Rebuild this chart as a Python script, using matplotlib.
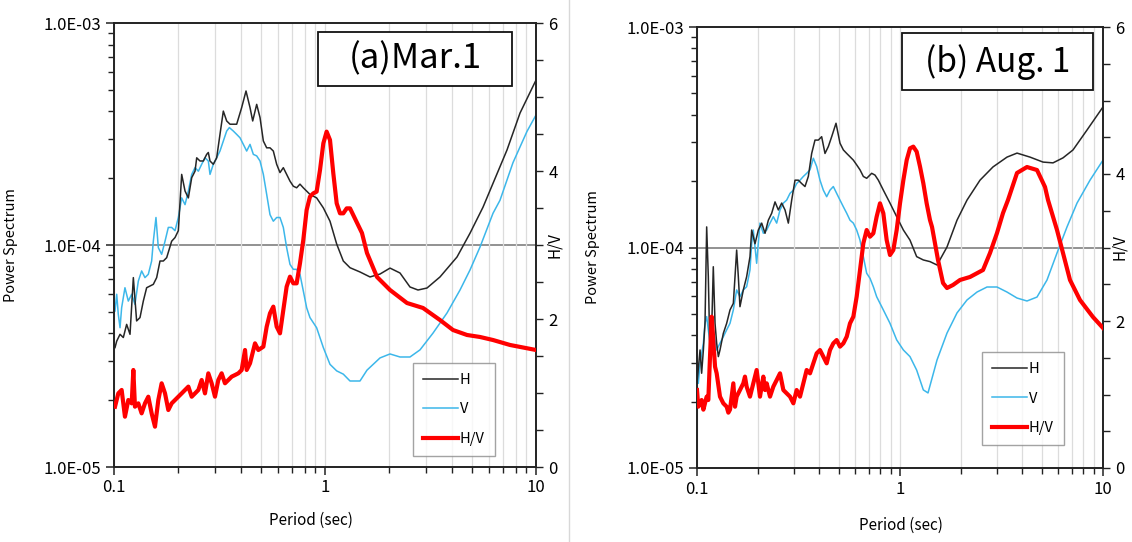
import numpy as np
import matplotlib
matplotlib.use("Agg")
import matplotlib.pyplot as plt
from matplotlib.patches import Rectangle
from matplotlib.ticker import FixedLocator, MultipleLocator, NullFormatter, LogLocator

plt.rcParams['font.family'] = ['Noto Sans CJK JP', 'DejaVu Sans']

# power spectra are stored in units of 1e-5
PS_UNIT = 1e-5

# ---- (a) Mar. 1 ----
mar_h_period = [0.1011, 0.1030, 0.1068, 0.1107, 0.1148, 0.1191, 0.1235, 0.1280, 0.1328, 0.1377,
                0.1428, 0.1536, 0.1593, 0.1652, 0.1713, 0.1777, 0.1876, 0.1946, 0.2018, 0.2093,
                0.2171, 0.2251, 0.2335, 0.2421, 0.2466, 0.2556, 0.2651, 0.2749, 0.2799, 0.2851,
                0.2956, 0.3066, 0.3179, 0.3297, 0.3420, 0.3547, 0.3814, 0.4028, 0.4223, 0.4412,
                0.4543, 0.4745, 0.4921, 0.5103, 0.5292, 0.5487, 0.5690, 0.5901, 0.6119, 0.6346,
                0.6580, 0.6824, 0.7077, 0.7338, 0.7610, 0.7892, 0.8487, 0.9127, 0.9820, 1.056,
                1.136, 1.221, 1.314, 1.465, 1.634, 1.823, 2.033, 2.267, 2.528, 2.759,
                3.043, 3.508, 4.223, 4.867, 5.608, 7.288, 8.400, 10.0]
mar_h = [3.45, 3.69, 3.96, 3.83, 4.39, 3.96, 7.13, 4.55, 4.71, 5.59,
         6.42, 6.65, 7.13, 8.47, 8.47, 8.77, 10.4, 10.8, 11.6, 20.8,
         17.5, 16.3, 20.1, 21.5, 24.7, 23.9, 23.9, 25.6, 26.1, 23.9,
         23.1, 24.7, 31.5, 40.1, 36.2, 35.0, 35.0, 41.6, 49.4, 41.6,
         36.2, 43.0, 37.5, 29.4, 27.4, 27.4, 26.5, 23.1, 21.2, 22.3,
         20.8, 19.4, 18.4, 18.1, 18.8, 18.1, 16.9, 16.3, 14.7, 12.8,
         10.1, 8.47, 7.90, 7.56, 7.18, 7.40, 7.87, 7.48, 6.47, 6.27,
         6.40, 7.18, 8.83, 11.3, 14.8, 26.8, 39.3, 55.3]

mar_v_period = [0.1011, 0.1030, 0.1048, 0.1068, 0.1087, 0.1127, 0.1169, 0.1213, 0.1257, 0.1304,
                0.1352, 0.1402, 0.1454, 0.1508, 0.1536, 0.1581, 0.1622, 0.1682, 0.1745, 0.1809,
                0.1876, 0.1946, 0.2018, 0.2093, 0.2171, 0.2251, 0.2335, 0.2421, 0.2511, 0.2603,
                0.2699, 0.2799, 0.2851, 0.2956, 0.3066, 0.3179, 0.3297, 0.3420, 0.3521, 0.3678,
                0.3814, 0.3956, 0.4102, 0.4254, 0.4412, 0.4575, 0.4745, 0.4921, 0.5103, 0.5292,
                0.5487, 0.5690, 0.5901, 0.6119, 0.6346, 0.6580, 0.6824, 0.7077, 0.7338, 0.7610,
                0.7892, 0.8184, 0.8487, 0.9127, 0.9820, 1.056, 1.136, 1.221, 1.314, 1.465,
                1.581, 1.823, 2.033, 2.267, 2.528, 2.820, 3.250, 3.786, 4.364, 4.867,
                5.428, 6.256, 6.750, 7.780, 9.065, 10.0]
mar_v = [5.04, 6.00, 4.87, 4.24, 5.22, 6.42, 5.59, 6.00, 5.40, 6.88,
         7.64, 7.13, 7.38, 8.47, 10.4, 13.3, 9.73, 9.08, 10.4, 12.0,
         12.0, 11.6, 13.3, 16.3, 15.2, 17.5, 20.8, 22.3, 21.5, 23.1,
         24.7, 23.9, 20.8, 23.1, 24.7, 26.5, 29.4, 32.6, 33.8, 32.6,
         31.5, 30.4, 28.4, 26.5, 28.4, 25.6, 25.2, 23.9, 20.8, 16.9,
         13.7, 12.8, 13.3, 13.3, 12.0, 9.73, 8.18, 7.77, 7.77, 7.38,
         6.21, 5.22, 4.71, 4.24, 3.45, 2.90, 2.71, 2.62, 2.44, 2.44,
         2.73, 3.10, 3.23, 3.13, 3.13, 3.37, 4.01, 4.94, 6.27, 7.72,
         9.79, 13.9, 15.9, 23.5, 32.5, 38.5]

mar_hv_period = [0.1011, 0.1048, 0.1087, 0.1127, 0.1169, 0.1213, 0.1235, 0.1257, 0.1304, 0.1352,
                 0.1402, 0.1454, 0.1508, 0.1564, 0.1622, 0.1682, 0.1745, 0.1809, 0.1876, 0.1946,
                 0.2018, 0.2093, 0.2171, 0.2251, 0.2335, 0.2421, 0.2511, 0.2603, 0.2699, 0.2799,
                 0.2903, 0.3010, 0.3122, 0.3237, 0.3357, 0.3483, 0.3612, 0.3746, 0.3884, 0.4028,
                 0.4178, 0.4254, 0.4412, 0.4659, 0.4831, 0.5103, 0.5292, 0.5487, 0.5690, 0.5901,
                 0.6119, 0.6346, 0.6580, 0.6824, 0.7077, 0.7338, 0.7610, 0.7892, 0.8184, 0.8487,
                 0.8801, 0.9127, 0.9470, 0.9820, 1.018, 1.056, 1.095, 1.136, 1.178, 1.221,
                 1.267, 1.314, 1.497, 1.581, 1.764, 2.033, 2.447, 2.914, 3.508, 4.043,
                 4.710, 5.428, 6.256, 7.530, 10.0]
mar_hv = [0.815, 0.995, 1.041, 0.680, 0.905, 0.860, 1.311, 0.815, 0.860, 0.725,
          0.860, 0.950, 0.725, 0.545, 0.905, 1.131, 0.995, 0.770, 0.860, 0.905,
          0.950, 0.995, 1.041, 1.086, 0.950, 0.995, 1.041, 1.176, 0.995, 1.266,
          1.131, 0.950, 1.176, 1.266, 1.131, 1.176, 1.221, 1.243, 1.266, 1.311,
          1.581, 1.311, 1.401, 1.671, 1.581, 1.626, 1.896, 2.077, 2.167, 1.896,
          1.806, 2.122, 2.437, 2.572, 2.482, 2.482, 2.752, 3.068, 3.473, 3.653,
          3.698, 3.721, 4.014, 4.374, 4.532, 4.419, 3.968, 3.563, 3.428, 3.428,
          3.495, 3.495, 3.162, 2.892, 2.568, 2.392, 2.216, 2.149, 1.986, 1.851,
          1.784, 1.757, 1.716, 1.649, 1.581]

# ---- (b) Aug. 1 ----
aug_h_period = [0.1, 0.1035, 0.1054, 0.1075, 0.1095, 0.1116, 0.1137, 0.1159, 0.1181, 0.1203,
                0.1227, 0.1250, 0.1274, 0.1298, 0.1348, 0.1400, 0.1454, 0.1510, 0.1539, 0.1568,
                0.1598, 0.1628, 0.1691, 0.1756, 0.1824, 0.1859, 0.1931, 0.2005, 0.2083, 0.2163,
                0.2246, 0.2333, 0.2423, 0.2516, 0.2613, 0.2714, 0.2818, 0.2927, 0.3040, 0.3157,
                0.3278, 0.3404, 0.3535, 0.3672, 0.3813, 0.3960, 0.4112, 0.4271, 0.4436, 0.4607,
                0.4839, 0.5064, 0.5260, 0.5464, 0.5672, 0.5891, 0.6117, 0.6354, 0.6598, 0.6853,
                0.7252, 0.7531, 0.7822, 0.8278, 0.8927, 0.9630, 1.039, 1.120, 1.208, 1.303,
                1.405, 1.522, 1.704, 1.909, 2.138, 2.478, 2.872, 3.366, 3.771, 4.370,
                5.064, 5.672, 6.353, 7.116, 8.341, 10.0]
aug_h = [2.42, 3.43, 2.69, 3.43, 4.53, 12.4, 7.37, 3.20, 4.23, 8.18,
         4.53, 3.68, 3.20, 3.43, 4.08, 4.53, 5.21, 5.58, 7.37, 9.74,
         7.37, 5.39, 6.42, 7.37, 9.09, 12.0, 10.4, 12.0, 12.9, 11.6,
         13.3, 14.3, 16.1, 14.8, 15.9, 14.8, 12.9, 16.4, 20.2, 20.2,
         19.5, 18.9, 21.0, 26.7, 30.7, 30.7, 31.8, 26.7, 28.7, 31.8,
         36.6, 29.7, 27.7, 26.7, 25.8, 24.9, 23.7, 22.5, 21.0, 20.6,
         21.7, 21.3, 20.2, 18.2, 15.9, 13.8, 12.0, 10.8, 9.09, 8.78,
         8.63, 8.33, 10.05, 13.3, 16.4, 20.2, 23.2, 25.7, 26.8, 25.7,
         24.4, 24.2, 25.5, 27.7, 34.1, 43.4]

aug_v_period = [0.1, 0.1015, 0.1035, 0.1075, 0.1095, 0.1116, 0.1137, 0.1159, 0.1203, 0.1250,
                0.1298, 0.1348, 0.1400, 0.1454, 0.1510, 0.1568, 0.1628, 0.1691, 0.1756, 0.1824,
                0.1859, 0.1894, 0.1967, 0.2043, 0.2122, 0.2204, 0.2289, 0.2377, 0.2469, 0.2564,
                0.2663, 0.2765, 0.2872, 0.2983, 0.3097, 0.3217, 0.3341, 0.3469, 0.3603, 0.3742,
                0.3886, 0.4035, 0.4191, 0.4353, 0.4520, 0.4694, 0.4875, 0.5064, 0.5260, 0.5464,
                0.5672, 0.5891, 0.6117, 0.6354, 0.6598, 0.6853, 0.7116, 0.7390, 0.7675, 0.8278,
                0.8927, 0.9630, 1.039, 1.120, 1.208, 1.303, 1.374, 1.522, 1.704, 1.909,
                2.138, 2.395, 2.683, 3.005, 3.366, 3.771, 4.222, 4.730, 5.298, 5.935,
                6.649, 7.447, 8.630, 10.0]
aug_v = [3.20, 2.42, 2.98, 3.68, 4.53, 4.86, 4.23, 3.68, 4.23, 3.43,
         3.68, 3.94, 4.23, 4.53, 5.21, 6.42, 5.98, 6.42, 6.64, 7.91,
         10.4, 12.0, 8.48, 12.9, 11.6, 12.0, 12.9, 13.8, 12.9, 14.8,
         15.9, 16.4, 17.6, 18.2, 19.5, 20.2, 21.0, 21.7, 22.5, 25.4,
         23.3, 20.2, 18.2, 17.0, 18.2, 18.9, 17.6, 16.4, 15.3, 14.3,
         13.3, 12.9, 12.0, 10.8, 9.09, 7.64, 7.25, 6.64, 5.98, 5.21,
         4.53, 3.81, 3.43, 3.20, 2.78, 2.26, 2.19, 3.09, 4.09, 5.05,
         5.78, 6.28, 6.62, 6.62, 6.28, 5.90, 5.72, 5.96, 7.12, 9.44,
         12.4, 15.9, 20.2, 24.9]

aug_hv_period = [0.1, 0.1015, 0.1054, 0.1075, 0.1116, 0.1137, 0.1159, 0.1181, 0.1203, 0.1227,
                 0.1250, 0.1298, 0.1348, 0.1400, 0.1427, 0.1454, 0.1510, 0.1539, 0.1568, 0.1628,
                 0.1691, 0.1723, 0.1756, 0.1824, 0.1894, 0.1967, 0.2005, 0.2043, 0.2122, 0.2163,
                 0.2204, 0.2289, 0.2377, 0.2469, 0.2564, 0.2663, 0.2765, 0.2872, 0.2983, 0.3097,
                 0.3217, 0.3341, 0.3469, 0.3603, 0.3742, 0.3886, 0.4035, 0.4191, 0.4353, 0.4520,
                 0.4694, 0.4875, 0.5064, 0.5260, 0.5464, 0.5672, 0.5891, 0.6117, 0.6354, 0.6598,
                 0.6853, 0.7116, 0.7390, 0.7675, 0.7970, 0.8278, 0.8596, 0.8927, 0.9272, 0.9630,
                 1.000, 1.039, 1.079, 1.120, 1.163, 1.208, 1.255, 1.303, 1.353, 1.405,
                 1.438, 1.539, 1.629, 1.704, 1.824, 1.975, 2.212, 2.564, 2.776, 3.005,
                 3.217, 3.404, 3.771, 4.222, 4.730, 5.181, 5.360, 5.935, 6.353, 6.877,
                 7.702, 8.927, 10.0]
aug_hv = [1.061, 0.834, 0.925, 0.794, 0.971, 0.925, 1.515, 2.059, 1.741, 1.379,
          1.288, 0.971, 0.880, 0.834, 0.753, 0.794, 1.152, 0.834, 0.971, 1.061,
          1.152, 1.243, 1.107, 0.971, 1.152, 1.333, 1.152, 0.971, 1.243, 1.061,
          1.152, 0.971, 1.107, 1.197, 1.288, 1.061, 1.016, 0.971, 0.880, 1.061,
          0.971, 1.152, 1.333, 1.288, 1.424, 1.560, 1.605, 1.515, 1.424, 1.605,
          1.696, 1.741, 1.651, 1.696, 1.787, 1.968, 2.059, 2.331, 2.694, 3.057,
          3.238, 3.147, 3.193, 3.420, 3.601, 3.465, 3.102, 2.898, 2.966, 3.238,
          3.601, 3.918, 4.190, 4.349, 4.372, 4.304, 4.100, 3.873, 3.601, 3.374,
          3.279, 2.830, 2.517, 2.449, 2.490, 2.558, 2.599, 2.694, 2.925, 3.197,
          3.469, 3.646, 4.014, 4.095, 4.054, 3.823, 3.646, 3.238, 2.925, 2.558,
          2.286, 2.054, 1.905]

ps_ticks = [1e-5, 1e-4, 1e-3]
ps_tick_labels = ['1.0E-05', '1.0E-04', '1.0E-03']
period_ticks = [0.1, 1, 10]
period_tick_labels = ['0.1', '1', '10']
hv_ticks = [0, 2, 4, 6]
series_labels = ['H', 'V', 'H/V']

C_H = '#262626'
C_V = '#3cb7ea'
C_HV = '#ff0000'


def draw_panel(rect, h_t, h, v_t, v, hv_t, hv, title, title_box, title_size,
               legend_anchor, ylabel_x, xlabel_xy, hv_label_x):
    ax = fig.add_axes(rect)
    ax.set_xscale('log')
    ax.set_yscale('log')
    ax.set_xlim(0.1, 10)
    ax.set_ylim(1e-5, 1e-3)

    ax.grid(True, which='both', axis='x', color='#dcdcdc', lw=0.9)
    ax.axhline(1e-4, color='#7f7f7f', lw=1.2, zorder=1.5)

    lh, = ax.plot(h_t, np.array(h) * PS_UNIT, color=C_H, lw=1.1, zorder=3)
    lv, = ax.plot(v_t, np.array(v) * PS_UNIT, color=C_V, lw=1.1, zorder=2.5)

    ax.yaxis.set_major_locator(FixedLocator(ps_ticks))
    ax.set_yticklabels(ps_tick_labels)
    ax.yaxis.set_minor_locator(LogLocator(base=10, subs=np.arange(2, 10)))
    ax.yaxis.set_minor_formatter(NullFormatter())
    ax.xaxis.set_major_locator(FixedLocator(period_ticks))
    ax.set_xticklabels(period_tick_labels)
    ax.xaxis.set_minor_locator(LogLocator(base=10, subs=np.arange(2, 10)))
    ax.xaxis.set_minor_formatter(NullFormatter())
    ax.tick_params(axis='both', which='major', direction='out', length=6, width=1.1,
                   labelsize=12, color='#222222', pad=3)
    ax.tick_params(axis='both', which='minor', direction='out', length=4, width=1.0,
                   color='#222222')
    for s in ax.spines.values():
        s.set_color('#222222')
        s.set_linewidth(1.2)

    ax.set_ylabel('Power Spectrum', fontsize=10.5)
    ax.yaxis.set_label_coords(ylabel_x, 0.5)
    ax.set_xlabel('Period (sec)', fontsize=11)
    ax.xaxis.set_label_coords(*xlabel_xy)

    ax2 = ax.twinx()
    ax2.set_ylim(0, 6)
    lhv, = ax2.plot(hv_t, hv, color=C_HV, lw=3.0, solid_joinstyle='round', zorder=3)
    ax2.yaxis.set_major_locator(FixedLocator(hv_ticks))
    ax2.yaxis.set_minor_locator(MultipleLocator(0.5))
    ax2.tick_params(axis='y', which='both', direction='out', length=5, width=1.0,
                    labelsize=12, color='#222222', pad=4)
    ax2.set_ylabel('H/V', fontsize=11, rotation=90, va='center', ha='center')
    ax2.yaxis.set_label_coords(hv_label_x, 0.5)
    for s in ax2.spines.values():
        s.set_color('#222222')
        s.set_linewidth(1.2)

    x0, y0, x1, y1 = title_box
    ax2.add_patch(Rectangle((x0, y0), x1 - x0, y1 - y0, transform=ax2.transAxes,
                            facecolor='white', edgecolor='#111111', lw=1.3, zorder=5))
    ax2.text((x0 + x1) / 2, (y0 + y1) / 2, title, transform=ax2.transAxes,
             ha='center', va='center', fontsize=title_size, zorder=6)

    leg = ax2.legend([lh, lv, lhv], series_labels, loc='lower left',
                     bbox_to_anchor=legend_anchor, fontsize=10.5, frameon=True,
                     fancybox=False, edgecolor='#8c8c8c', handlelength=2.4,
                     handletextpad=0.1, labelspacing=1.05, borderpad=0.7,
                     borderaxespad=0)
    leg.get_frame().set_linewidth(1.0)
    leg.set_zorder(6)
    return ax, ax2


fig = plt.figure(figsize=(11.32, 5.42), dpi=100)

draw_panel([114 / 1132, 75 / 542, 422 / 1132, 444 / 542],
           mar_h_period, mar_h, mar_v_period, mar_v, mar_hv_period, mar_hv,
           '(a)Mar.1', (0.483, 0.858, 0.943, 0.980), 25,
           (0.709, 0.025), -0.2275, (0.467, -0.100), 1.045)

draw_panel([697 / 1132, 74 / 542, 406 / 1132, 441 / 542],
           aug_h_period, aug_h, aug_v_period, aug_v, aug_hv_period, aug_hv,
           '(b) Aug. 1', (0.505, 0.857, 0.975, 0.986), 24,
           (0.702, 0.052), -0.239, (0.502, -0.111), 1.040)

# thin separator between the two panels
fig.add_artist(plt.Line2D([569 / 1132, 569 / 1132], [0.0, 1.0], transform=fig.transFigure,
                          color='#d8d8d8', lw=1.0))

fig.savefig('out.png', dpi=100, facecolor='white')
